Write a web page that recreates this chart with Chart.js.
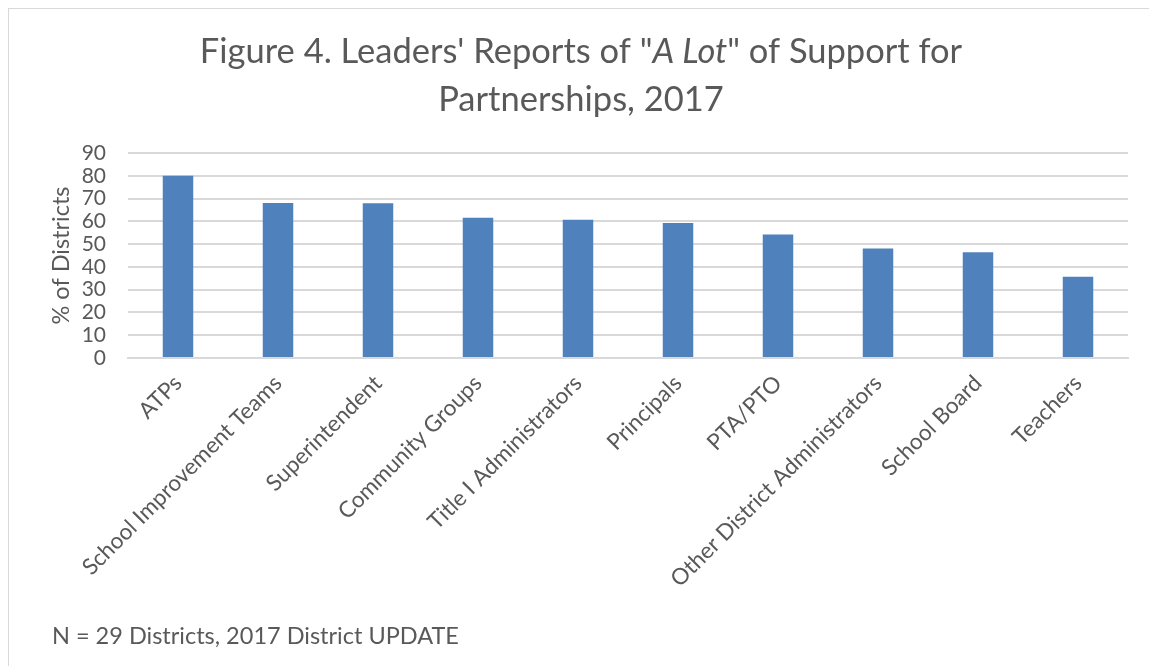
<!DOCTYPE html>
<html>
<head>
<meta charset="utf-8">
<script src="https://cdn.jsdelivr.net/npm/chart.js@4"></script>
<style>
  html, body { margin: 0; padding: 0; background: #ffffff; }
  #wrap { width: 1149px; height: 666px; position: relative; }
</style>
</head>
<body>
<div id="wrap"><canvas id="c" width="1149" height="666"></canvas></div>
<script>
const categories = ["ATPs", "School Improvement Teams", "Superintendent", "Community Groups", "Title I Administrators", "Principals", "PTA/PTO", "Other District Administrators", "School Board", "Teachers"];
const values = [80, 68, 67.9, 61.6, 60.7, 59.3, 54.2, 48.1, 46.4, 35.7];
const titleLine1 = [["Figure 4. Leaders' Reports of \"", false], ["A Lot", true], ["\" of Support for", false]];
const titleLine2 = "Partnerships, 2017";
const yAxisTitle = "% of Districts";
const footnote = "N = 29 Districts, 2017 District UPDATE";

const FONT = "Lato, 'Open Sans', 'DejaVu Sans', sans-serif";
const TEXT = "#595959";

const decor = {
  id: 'decor',
  beforeDraw(chart) {
    const ctx = chart.ctx;
    ctx.save();
    ctx.strokeStyle = "#D9D9D9";
    ctx.lineWidth = 1;
    ctx.strokeRect(8.5, 8.5, 1200, 700);
    ctx.restore();
  },
  afterDraw(chart) {
    const ctx = chart.ctx;
    ctx.save();
    ctx.fillStyle = TEXT;
    ctx.textBaseline = "middle";
    const size = 34.5;
    const cx = 581;
    let total = 0;
    const widths = titleLine1.map(([t, it]) => {
      ctx.font = (it ? "italic " : "") + size + "px " + FONT;
      const w = ctx.measureText(t).width;
      total += w;
      return w;
    });
    let x = cx - total / 2;
    titleLine1.forEach(([t, it], i) => {
      ctx.font = (it ? "italic " : "") + size + "px " + FONT;
      ctx.textAlign = "left";
      ctx.fillText(t, x, 52);
      x += widths[i];
    });
    ctx.font = size + "px " + FONT;
    ctx.textAlign = "center";
    ctx.fillText(titleLine2, cx, 100);
    ctx.font = "23.5px " + FONT;
    ctx.textAlign = "left";
    ctx.fillText(footnote, 52, 636);
    ctx.restore();
  }
};

new Chart(document.getElementById("c"), {
  type: "bar",
  data: {
    labels: categories,
    datasets: [{
      data: values,
      backgroundColor: "#4F81BD",
      borderWidth: 0,
      barPercentage: 0.305,
      categoryPercentage: 1.0
    }]
  },
  options: {
    responsive: false,
    animation: false,
    devicePixelRatio: 1,
    layout: { padding: { top: 153, left: 8, right: 21, bottom: 0 } },
    plugins: {
      legend: { display: false },
      tooltip: { enabled: false },
      title: { display: false }
    },
    scales: {
      x: {
        grid: { display: false, drawTicks: false },
        border: { color: "#D9D9D9", width: 2 },
        ticks: {
          color: TEXT,
          font: { family: FONT, size: 22.5 },
          maxRotation: 45,
          minRotation: 45,
          padding: 12,
          autoSkip: false
        },
        afterFit(scale) { scale.height = 308; }
      },
      y: {
        min: 0,
        max: 90,
        grid: { color: "#D9D9D9", lineWidth: 2, drawTicks: false },
        border: { display: false },
        ticks: {
          stepSize: 10,
          autoSkip: false,
          color: TEXT,
          font: { family: FONT, size: 21 },
          padding: 22
        },
        title: {
          display: true,
          text: yAxisTitle,
          color: TEXT,
          font: { family: FONT, size: 23.5 },
          padding: { top: 39, bottom: 0 }
        },
        afterFit(scale) { scale.width = 120; }
      }
    }
  },
  plugins: [decor]
});
</script>
</body>
</html>
